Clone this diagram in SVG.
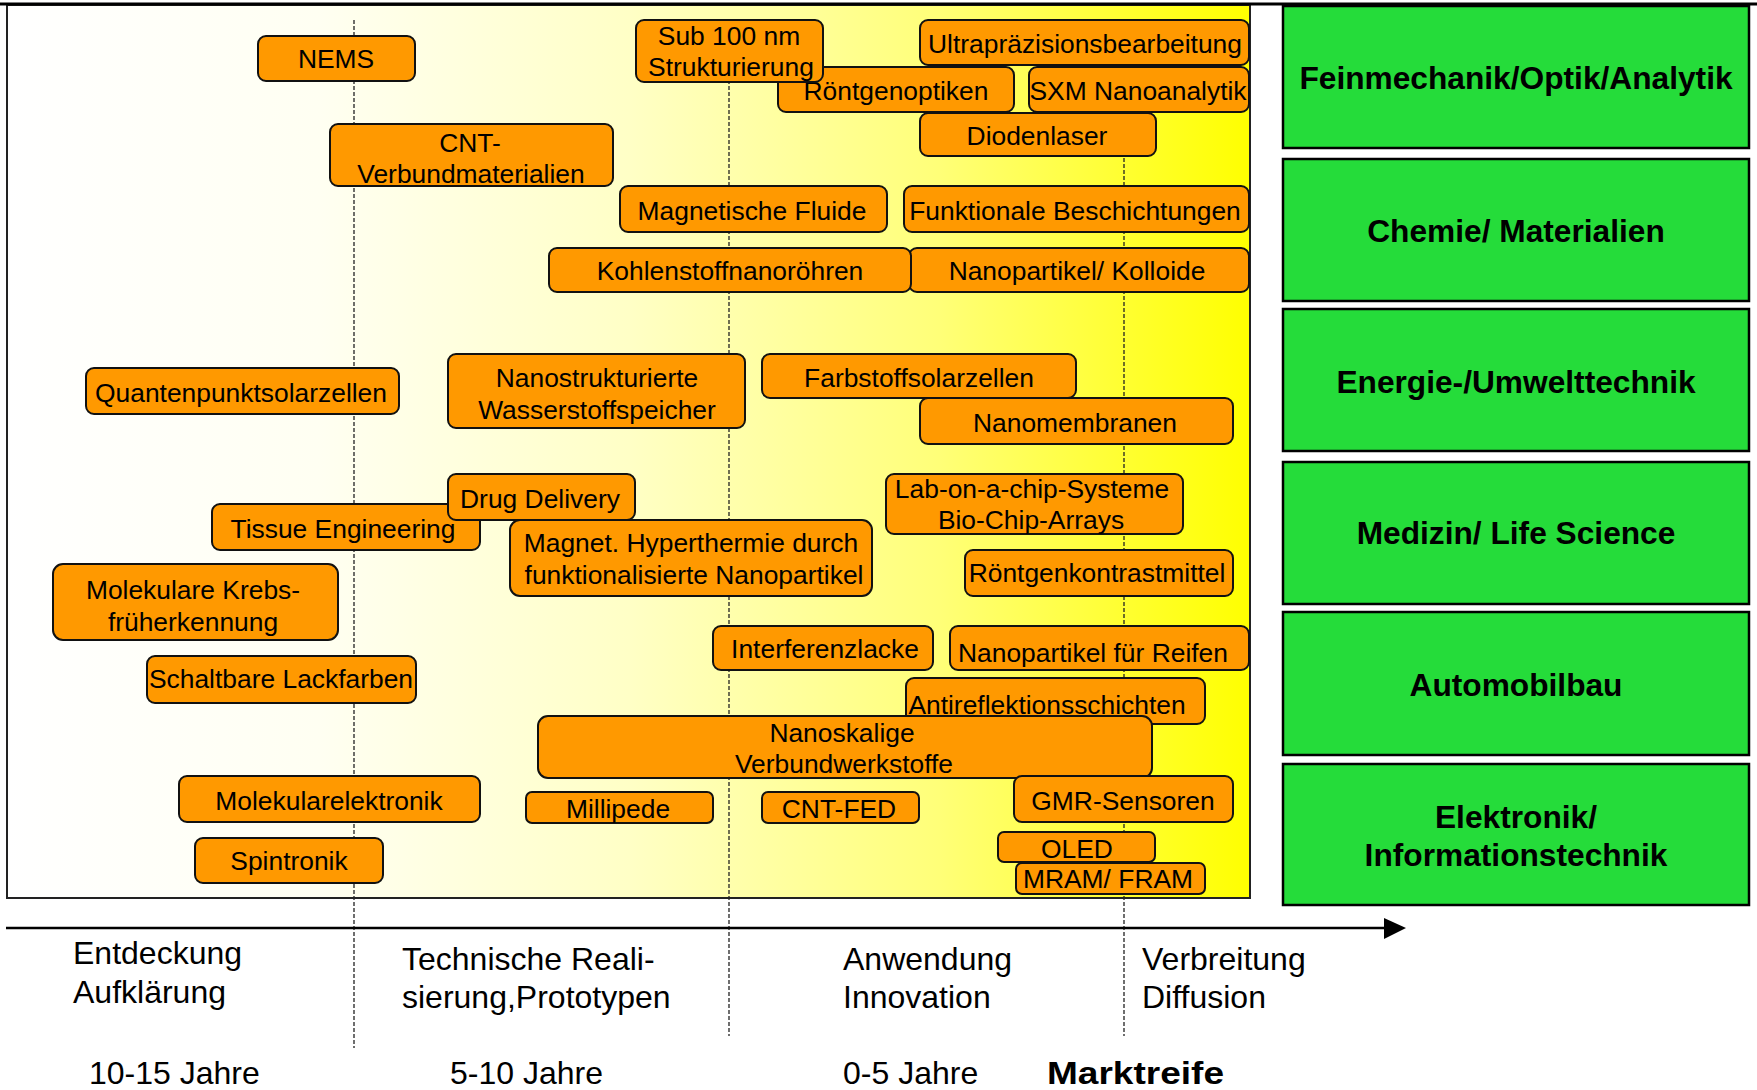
<svg xmlns="http://www.w3.org/2000/svg" width="1757" height="1090" viewBox="0 0 1757 1090">
<defs>
<linearGradient id="bg" x1="0" y1="0" x2="1" y2="0">
<stop offset="0" stop-color="#ffffff"/>
<stop offset="0.25" stop-color="#fffff2"/>
<stop offset="0.5" stop-color="#ffffc6"/>
<stop offset="0.75" stop-color="#ffff78"/>
<stop offset="1" stop-color="#ffff00"/>
</linearGradient>
<style>
.t{font-family:"Liberation Sans",Arial,sans-serif;font-size:26.4px;fill:#000;text-anchor:middle}
.o{fill:#ff9900;stroke:#111;stroke-width:2}
.g{fill:#25dc3a;stroke:#000;stroke-width:2.5}
.gt{font-family:"Liberation Sans",Arial,sans-serif;font-size:31.7px;font-weight:bold;fill:#000;text-anchor:middle}
.b{font-family:"Liberation Sans",Arial,sans-serif;font-size:32px;fill:#000}
.d{stroke:#222;stroke-width:1.3;stroke-dasharray:4,2;fill:none}
</style>
</defs>
<rect x="0" y="0" width="1757" height="1090" fill="#ffffff"/>
<rect x="7" y="5" width="1243" height="893" fill="url(#bg)" stroke="#222" stroke-width="2"/>
<line x1="0" y1="4" x2="1757" y2="4" stroke="#000" stroke-width="3"/>

<g id="connectors">
<line class="d" x1="354" y1="20" x2="354" y2="1048"/>
<line class="d" x1="729" y1="20" x2="729" y2="1036"/>
<line class="d" x1="1124" y1="20" x2="1124" y2="1036"/>
<line x1="6" y1="928" x2="1386" y2="928" stroke="#000" stroke-width="2.5"/>
<path d="M1384,918 L1406,928 L1384,939 Z" fill="#000"/>
</g>

<g id="n-nems"><rect class="o" x="258" y="36" width="157" height="45" rx="8"/><text class="t" x="336" y="68">NEMS</text></g>
<g id="n-roentgenoptiken"><rect class="o" x="778" y="67" width="236" height="45" rx="8"/><text class="t" x="896" y="100">Röntgenoptiken</text></g>
<g id="n-sub100"><rect class="o" x="636" y="20" width="187" height="62" rx="8"/><text class="t" x="729" y="45">Sub 100 nm</text><text class="t" x="731" y="76">Strukturierung</text></g>
<g id="n-ultra"><rect class="o" x="920" y="20" width="329" height="45" rx="8"/><text class="t" x="1085" y="53">Ultrapräzisionsbearbeitung</text></g>
<g id="n-sxm"><rect class="o" x="1029" y="67" width="220" height="45" rx="8"/><text class="t" x="1138" y="100">SXM Nanoanalytik</text></g>
<g id="n-diodenlaser"><rect class="o" x="920" y="113" width="236" height="43" rx="8"/><text class="t" x="1037" y="145">Diodenlaser</text></g>
<g id="n-cnt"><rect class="o" x="330" y="124" width="283" height="62" rx="8"/><text class="t" x="470" y="152">CNT-</text><text class="t" x="471" y="183">Verbundmaterialien</text></g>
<g id="n-magfluide"><rect class="o" x="620" y="186" width="267" height="46" rx="8"/><text class="t" x="752" y="220">Magnetische Fluide</text></g>
<g id="n-funktional"><rect class="o" x="904" y="186" width="345" height="46" rx="8"/><text class="t" x="1075" y="220">Funktionale Beschichtungen</text></g>
<g id="n-kolloide"><rect class="o" x="909" y="248" width="340" height="44" rx="8"/><text class="t" x="1077" y="280">Nanopartikel/ Kolloide</text></g>
<g id="n-kohlen"><rect class="o" x="549" y="248" width="362" height="44" rx="8"/><text class="t" x="730" y="280">Kohlenstoffnanoröhren</text></g>
<g id="n-quanten"><rect class="o" x="86" y="368" width="313" height="46" rx="8"/><text class="t" x="241" y="402">Quantenpunktsolarzellen</text></g>
<g id="n-wasserstoff"><rect class="o" x="448" y="354" width="297" height="74" rx="8"/><text class="t" x="597" y="387">Nanostrukturierte</text><text class="t" x="597" y="419">Wasserstoffspeicher</text></g>
<g id="n-farbstoff"><rect class="o" x="762" y="354" width="314" height="44" rx="8"/><text class="t" x="919" y="387">Farbstoffsolarzellen</text></g>
<g id="n-membranen"><rect class="o" x="920" y="398" width="313" height="46" rx="8"/><text class="t" x="1075" y="432">Nanomembranen</text></g>
<g id="n-tissue"><rect class="o" x="212" y="504" width="268" height="46" rx="8"/><text class="t" x="343" y="538">Tissue Engineering</text></g>
<g id="n-drug"><rect class="o" x="448" y="474" width="187" height="46" rx="8"/><text class="t" x="540" y="508">Drug Delivery</text></g>
<g id="n-hyperthermie"><rect class="o" x="510" y="520" width="362" height="76" rx="10"/><text class="t" x="691" y="552">Magnet. Hyperthermie durch</text><text class="t" x="694" y="584">funktionalisierte Nanopartikel</text></g>
<g id="n-labonchip"><rect class="o" x="886" y="474" width="297" height="60" rx="8"/><text class="t" x="1032" y="498">Lab-on-a-chip-Systeme</text><text class="t" x="1031" y="529">Bio-Chip-Arrays</text></g>
<g id="n-kontrast"><rect class="o" x="965" y="550" width="268" height="46" rx="8"/><text class="t" x="1097" y="582">Röntgenkontrastmittel</text></g>
<g id="n-krebs"><rect class="o" x="53" y="564" width="285" height="76" rx="10"/><text class="t" x="193" y="599">Molekulare Krebs-</text><text class="t" x="193" y="631">früherkennung</text></g>
<g id="n-lackfarben"><rect class="o" x="147" y="656" width="269" height="47" rx="8"/><text class="t" x="281" y="688">Schaltbare Lackfarben</text></g>
<g id="n-interferenz"><rect class="o" x="713" y="626" width="220" height="44" rx="8"/><text class="t" x="825" y="658">Interferenzlacke</text></g>
<g id="n-reifen"><rect class="o" x="950" y="626" width="299" height="44" rx="8"/><text class="t" x="1093" y="662">Nanopartikel für Reifen</text></g>
<g id="n-antireflex"><rect class="o" x="906" y="678" width="299" height="46" rx="8"/><text class="t" x="1047" y="714">Antireflektionsschichten</text></g>
<g id="n-nanoskalig"><rect class="o" x="538" y="716" width="614" height="62" rx="10"/><text class="t" x="842" y="742">Nanoskalige</text><text class="t" x="844" y="773">Verbundwerkstoffe</text></g>
<g id="n-millipede"><rect class="o" x="526" y="792" width="187" height="31" rx="6"/><text class="t" x="618" y="818">Millipede</text></g>
<g id="n-cntfed"><rect class="o" x="762" y="792" width="157" height="31" rx="6"/><text class="t" x="839" y="818">CNT-FED</text></g>
<g id="n-gmr"><rect class="o" x="1014" y="776" width="219" height="46" rx="8"/><text class="t" x="1123" y="810">GMR-Sensoren</text></g>
<g id="n-molelektronik"><rect class="o" x="179" y="776" width="301" height="46" rx="8"/><text class="t" x="329" y="810">Molekularelektronik</text></g>
<g id="n-spintronik"><rect class="o" x="195" y="838" width="188" height="45" rx="8"/><text class="t" x="289" y="870">Spintronik</text></g>
<g id="n-oled"><rect class="o" x="998" y="832" width="157" height="30" rx="6"/><text class="t" x="1077" y="858">OLED</text></g>
<g id="n-mram"><rect class="o" x="1016" y="863" width="189" height="31" rx="6"/><text class="t" x="1108" y="888">MRAM/ FRAM</text></g>

<g id="g-feinmechanik"><rect class="g" x="1283" y="6" width="466" height="142"/><text class="gt" x="1516" y="89">Feinmechanik/Optik/Analytik</text></g>
<g id="g-chemie"><rect class="g" x="1283" y="159" width="466" height="142"/><text class="gt" x="1516" y="242">Chemie/ Materialien</text></g>
<g id="g-energie"><rect class="g" x="1283" y="309" width="466" height="142"/><text class="gt" x="1516" y="393">Energie-/Umwelttechnik</text></g>
<g id="g-medizin"><rect class="g" x="1283" y="462" width="466" height="142"/><text class="gt" x="1516" y="544">Medizin/ Life Science</text></g>
<g id="g-automobil"><rect class="g" x="1283" y="612" width="466" height="143"/><text class="gt" x="1516" y="696">Automobilbau</text></g>
<g id="g-elektronik"><rect class="g" x="1283" y="764" width="466" height="141"/><text class="gt" x="1516" y="828">Elektronik/</text><text class="gt" x="1516" y="866">Informationstechnik</text></g>

<g id="axis-labels">
<text class="b" x="73" y="964">Entdeckung</text>
<text class="b" x="73" y="1003">Aufklärung</text>
<text class="b" x="402" y="970">Technische Reali-</text>
<text class="b" x="402" y="1008">sierung,Prototypen</text>
<text class="b" x="843" y="970">Anwendung</text>
<text class="b" x="843" y="1008">Innovation</text>
<text class="b" x="1142" y="970">Verbreitung</text>
<text class="b" x="1142" y="1008">Diffusion</text>
<text class="b" x="89" y="1084">10-15 Jahre</text>
<text class="b" x="450" y="1084">5-10 Jahre</text>
<text class="b" x="843" y="1084">0-5 Jahre</text>
<text class="b" x="1047" y="1084" font-size="44" font-weight="bold" textLength="177" lengthAdjust="spacingAndGlyphs">Marktreife</text>
</g>
</svg>
